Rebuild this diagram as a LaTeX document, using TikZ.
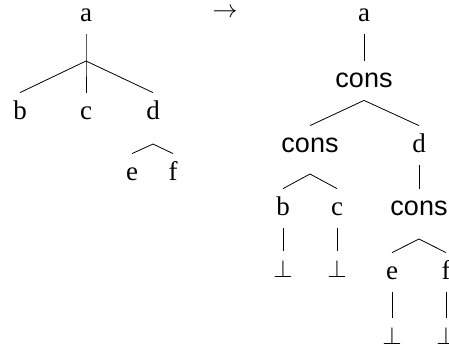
\documentclass[tikz,border=0pt]{standalone}
\usepackage{fontspec}
\setmainfont{Liberation Serif}
\newfontfamily\consfont{Liberation Sans}
\newcommand{\treesize}{\fontsize{27}{32}\selectfont}

\tikzset{
  lbl/.style={text height=20pt, text depth=7pt, inner sep=6pt},
  cons/.style={lbl, font=\treesize\consfont},
}

\begin{document}
\begin{tikzpicture}[x=1pt, y=-1pt, line width=0.8pt,
    every node/.style={font=\treesize}]
    \useasboundingbox (0,0) rectangle (449,349);

    % Albero di partenza
    \node[lbl] (a) at (86,14.5) {a};
    \coordinate (j) at (86,61);
    \node[lbl] (b) at (20,112.5) {b};
    \node[lbl] (c) at (86,112.5) {c};
    \node[lbl] (d) at (153,112.5) {d};
    \node[lbl] (e) at (132,173.5) {e};
    \node[lbl] (f) at (173,173.5) {f};
    \coordinate (ef) at (153,144);

    \draw (a) -- (j) -- (c);
    \draw (b.north) -- (j) -- (d.north);
    \draw (e.north) -- (ef) -- (f.north); % figli di d

    % Freccia
    \node[inner sep=0pt] (to) at (225,13) {$\to$};

    % Albero trasformato
    \node[lbl] (a2) at (364,14.5) {a};
    \node[cons] (cons1) at (364,80.5) {cons};
    \node[cons] (cons2) at (310,145.5) {cons};
    \node[lbl] (d2) at (419,145.5) {d};
    \node[lbl] (b2) at (283,208.5) {b};
    \node[lbl] (c2) at (337,208.5) {c};
    \node[cons] (cons3) at (419,208.5) {cons};
    \node[lbl] (bot1) at (283,270.5) {$\bot$};
    \node[lbl] (bot2) at (337,270.5) {$\bot$};
    \node[lbl] (e2) at (392,272.5) {e};
    \node[lbl] (f2) at (446,272.5) {f};
    \node[lbl] (bot3) at (392,337.5) {$\bot$};
    \node[lbl] (bot4) at (446,337.5) {$\bot$};
    \coordinate (bc) at (310,174);
    \coordinate (ef2) at (419,239);

    \draw (a2) -- (cons1);
    \draw (cons2.north) -- (cons1.south) -- (d2.north);
    \draw (d2) -- (cons3);
    \draw (b2.north) -- (bc) -- (c2.north); % figli di cons
    \draw (e2.north) -- (ef2) -- (f2.north); % figli di cons
    \draw (b2) -- (bot1);
    \draw (c2) -- (bot2);
    \draw (e2) -- (bot3);
    \draw (f2) -- (bot4);
\end{tikzpicture}
\end{document}
